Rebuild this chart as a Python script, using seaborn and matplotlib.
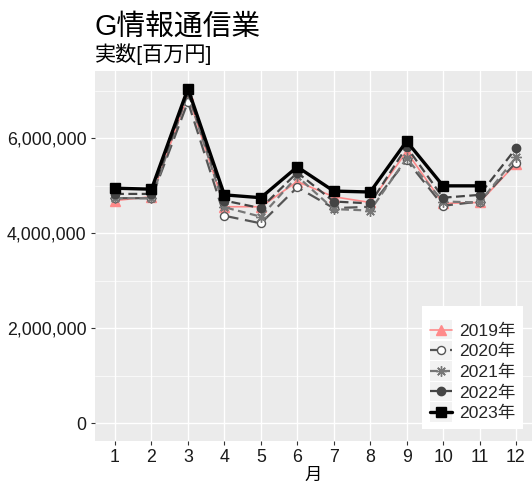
import numpy as np
import pandas as pd
import matplotlib
matplotlib.use("Agg")
import matplotlib.pyplot as plt
import seaborn as sns
from matplotlib.legend_handler import HandlerLine2D
from matplotlib.patches import Rectangle
from matplotlib.ticker import FuncFormatter

months = list(range(1, 13))
years = ["2019年", "2020年", "2021年", "2022年", "2023年"]
v2019 = [4.69, 4.77, 6.91, 4.56, 4.56, 5.09, 4.77, 4.65, 5.72, 4.63, 4.65, 5.47]
v2020 = [4.74, 4.74, 6.77, 4.37, 4.21, 4.97, 4.53, 4.56, 5.54, 4.58, 4.67, 5.49]
v2021 = [4.74, 4.74, 6.95, 4.55, 4.35, 5.20, 4.51, 4.48, 5.58, 4.67, 4.65, 5.60]
v2022 = [4.83, 4.83, 6.98, 4.69, 4.53, 5.28, 4.67, 4.63, 5.82, 4.75, 4.81, 5.79]
v2023 = [4.95, 4.93, 7.05, 4.81, 4.75, 5.40, 4.89, 4.87, 5.94, 5.00, 5.00, None]
series = [v2019, v2020, v2021, v2022, v2023]

rows = []
for y, vals in zip(years, series):
    for m, v in zip(months, vals):
        if v is not None:
            rows.append({"月": m, "年": y, "値": v * 1e6})
df = pd.DataFrame(rows)

styles = {
    "2019年": dict(color="#FF8A8A", ls="-", lw=1.2, marker="^", ms=7, mfc="#FF8A8A", mec="#FF8A8A"),
    "2020年": dict(color="#555555", ls=(0, (6, 3)), lw=1.6, marker="o", ms=5.8, mfc="white", mec="#555555"),
    "2021年": dict(color="#777777", ls=(0, (3.5, 2)), lw=1.6, marker=(8, 2, 0), ms=7.5, mfc="#777777", mec="#777777"),
    "2022年": dict(color="#444444", ls=(0, (4, 2)), lw=1.6, marker="o", ms=6, mfc="#444444", mec="#444444"),
    "2023年": dict(color="black", ls="-", lw=2.4, marker="s", ms=6.5, mfc="black", mec="black"),
}

sns.set_theme(style="darkgrid")
plt.rcParams["font.family"] = ["Liberation Sans", "Noto Sans CJK JP", "DejaVu Sans"]

fig = plt.figure(figsize=(5.32, 4.82), dpi=100)
ax = fig.add_axes([95 / 532, 41.3 / 482, 1 - 95 / 532, (440.7 - 71) / 482])
ax.set_facecolor("#EBEBEB")

for y in years:
    st = styles[y]
    sub = df[df["年"] == y]
    sns.lineplot(data=sub, x="月", y="値", ax=ax, color=st["color"], linestyle=st["ls"],
                 linewidth=st["lw"], marker=st["marker"], markersize=st["ms"],
                 markerfacecolor=st["mfc"], markeredgecolor=st["mec"], markeredgewidth=1.0,
                 label=y, legend=False)

ax.set_xlim(0.45, 12.44)
ax.set_ylim(-0.37e6, 7.42e6)
ax.set_xticks(months)
ax.set_yticks([0, 2e6, 4e6, 6e6])
ax.set_yticks([1e6, 3e6, 5e6, 7e6], minor=True)
ax.yaxis.set_major_formatter(FuncFormatter(lambda v, p: f"{int(v):,}"))
ax.grid(which="major", color="white", linewidth=1.0)
ax.grid(which="minor", axis="y", color="white", linewidth=0.5)
ax.grid(which="minor", axis="x", visible=False)
for s in ax.spines.values():
    s.set_visible(False)
ax.tick_params(axis="both", which="major", length=3, width=0.8, color="#333333",
               labelsize=12.8, labelcolor="#1a1a1a", pad=3, left=True, bottom=True)
ax.tick_params(axis="both", which="minor", length=0)
ax.set_xlabel("月", fontsize=12.5, color="black", labelpad=1)
ax.set_ylabel("")


class KeyHandler(HandlerLine2D):
    def create_artists(self, legend, orig_handle, xdescent, ydescent, width, height, fontsize, trans):
        arts = super().create_artists(legend, orig_handle, xdescent, ydescent, width, height, fontsize, trans)
        pad = 2.6
        bg = Rectangle((-xdescent, -ydescent - pad), width, height + 2 * pad,
                       facecolor="#F2F2F2", edgecolor="none", transform=trans)
        return [bg] + list(arts)


handles = ax.get_lines()[:5]
leg = ax.legend(handles=handles, labels=years, loc="lower right",
                bbox_to_anchor=(523 / 532, 53 / 482), bbox_transform=fig.transFigure,
                borderaxespad=0,
                frameon=True, facecolor="white", edgecolor="white", framealpha=1,
                fontsize=12.6, handlelength=1.25, handletextpad=0.4, labelspacing=0.3,
                borderpad=0.45, fancybox=False, numpoints=1,
                title=" ", title_fontsize=3,
                handler_map={h: KeyHandler() for h in handles})
leg.get_frame().set_linewidth(0)

fig.text(95 / 532, 1 - 35 / 482, "G情報通信業", fontsize=20.7, ha="left", va="baseline", color="black")
fig.text(95 / 532, 1 - 61 / 482, "実数[百万円]", fontsize=15.2, ha="left", va="baseline", color="black")

fig.savefig("out.png", dpi=100, facecolor="white")
